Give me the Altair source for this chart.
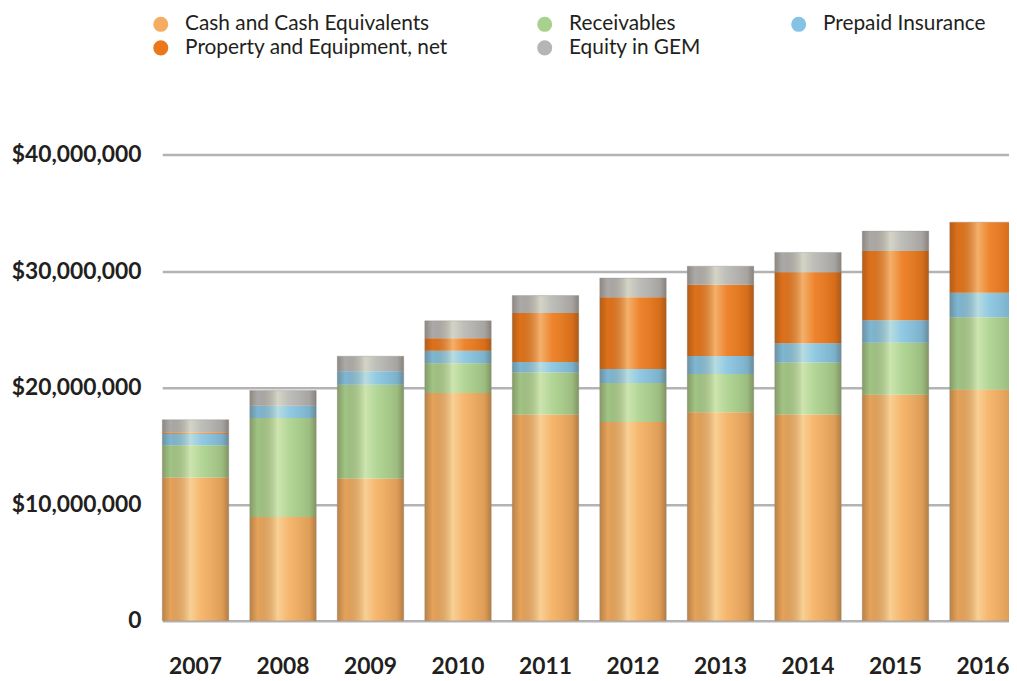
import altair as alt
import pandas as pd

years = ["2007", "2008", "2009", "2010", "2011", "2012", "2013", "2014", "2015", "2016"]
series = ["Cash and Cash Equivalents", "Receivables", "Prepaid Insurance",
          "Property and Equipment, net", "Equity in GEM"]
colors = ["#F4AD60", "#A9D18E", "#84C3E3", "#EC771A", "#B5B5B5"]

cash = [12.3, 8.9, 12.2, 19.55, 17.7, 17.05, 17.9, 17.7, 19.4, 19.85]
receivables = [2.75, 8.5, 8.05, 2.55, 3.6, 3.35, 3.27, 4.45, 4.45, 6.2]
prepaid = [1.0, 1.05, 1.15, 1.07, 0.9, 1.2, 1.55, 1.65, 1.93, 2.1]
property_eq = [0.1, 0.0, 0.0, 1.06, 4.2, 6.15, 6.1, 6.1, 5.95, 6.05]
equity = [1.1, 1.3, 1.3, 1.5, 1.5, 1.65, 1.6, 1.7, 1.7, 0.0]

y_ticks = [0, 10000000, 20000000, 30000000, 40000000]

rows = []
for i, y in enumerate(years):
    for k, (name, vals) in enumerate(zip(series, [cash, receivables, prepaid, property_eq, equity])):
        rows.append({"year": y, "series": name, "order": k, "value": vals[i] * 1_000_000})
df = pd.DataFrame(rows)

FONT = "Lato"
TEXT = "#231f20"
X_RANGE = [-17.5, 843.3]

x_enc = alt.X("year:N", sort=years,
              scale=alt.Scale(range=X_RANGE, paddingInner=0.24, paddingOuter=0),
              axis=alt.Axis(title=None, domain=False, ticks=False, labelAngle=0, grid=False,
                            labelFont=FONT, labelFontWeight="bold", labelFontSize=23,
                            labelColor=TEXT, labelPadding=35, labelBaseline="top"))

y_scale = alt.Scale(domain=[0, 40000000], nice=False)

bars = alt.Chart(df).mark_bar(size=67).encode(
    x=x_enc,
    y=alt.Y("value:Q", stack="zero", scale=y_scale,
            axis=alt.Axis(title=None, values=y_ticks, domain=False, ticks=False,
                          grid=True, gridColor="#B3B3B3", gridWidth=2.5,
                          labelFont=FONT, labelFontWeight="bold", labelFontSize=23,
                          labelColor=TEXT, labelPadding=39,
                          labelExpr="datum.value == 0 ? '0' : '$' + format(datum.value, ',')")),
    color=alt.Color("series:N", sort=series,
                    scale=alt.Scale(domain=series, range=colors),
                    legend=alt.Legend(title=None, orient="none", legendX=-29.5, legendY=-142,
                                      direction="horizontal", columns=3, columnPadding=87,
                                      rowPadding=2, padding=0, symbolType="circle",
                                      symbolSize=230, symbolStrokeWidth=0, symbolOpacity=1,
                                      labelFont=FONT, labelFontSize=21, labelColor=TEXT,
                                      labelOffset=14, labelLimit=400)),
    order=alt.Order("order:Q", sort="ascending"),
)

shade = alt.LinearGradient(
    gradient="linear", x1=0, x2=1, y1=0, y2=0,
    stops=[
        alt.GradientStop(offset=0.0, color="rgba(60,40,20,0.32)"),
        alt.GradientStop(offset=0.12, color="rgba(60,40,20,0.08)"),
        alt.GradientStop(offset=0.42, color="rgba(255,255,220,0.42)"),
        alt.GradientStop(offset=0.6, color="rgba(255,255,220,0.10)"),
        alt.GradientStop(offset=0.9, color="rgba(60,40,20,0.12)"),
        alt.GradientStop(offset=1.0, color="rgba(60,40,20,0.36)"),
    ],
)

overlay = alt.Chart(df).transform_aggregate(
    total="sum(value)", groupby=["year"]
).mark_bar(size=67, fill=shade, stroke="#8a8a8a", strokeWidth=0.6, strokeOpacity=0.5).encode(
    x=alt.X("year:N", sort=years, scale=alt.Scale(range=X_RANGE, paddingInner=0.24, paddingOuter=0)),
    y=alt.Y("total:Q", scale=y_scale),
)

chart = alt.layer(bars, overlay).properties(
    width=824, height=470,
    autosize=alt.AutoSizeParams(type="none"),
    padding={"left": 173, "top": 145, "right": 12, "bottom": 58},
).configure(font=FONT, background="white").configure_view(stroke=None)

chart.save("out.html", embed_options={"renderer": "svg", "actions": False})
